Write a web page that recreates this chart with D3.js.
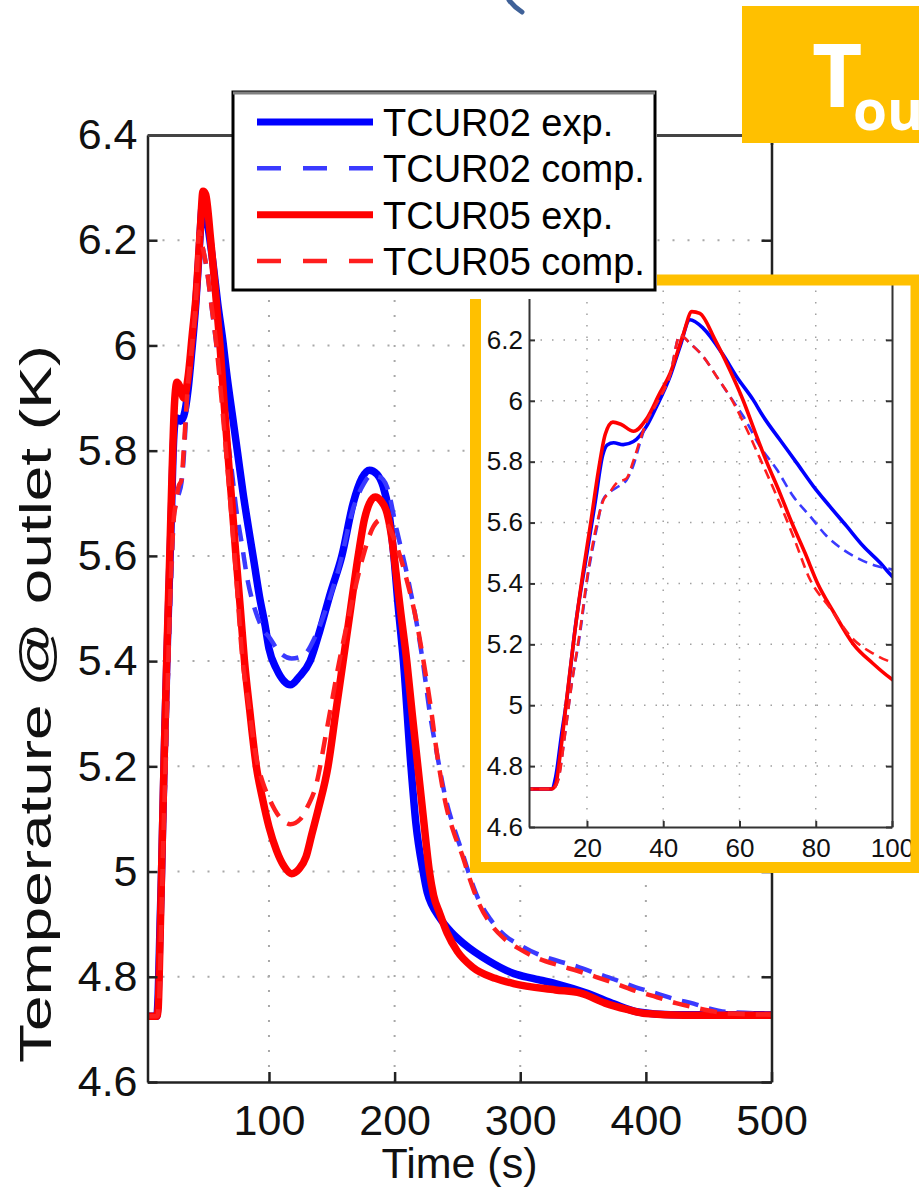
<!DOCTYPE html>
<html><head><meta charset="utf-8">
<script src="https://cdn.jsdelivr.net/npm/d3@7"></script>
<style>body{margin:0;background:#fff;} svg{display:block;}</style>
</head><body>
<svg id="c" width="919" height="1190"></svg>
<script>
// ---------------- data ----------------
const seriesNames = ["TCUR02 exp.", "TCUR02 comp.", "TCUR05 exp.", "TCUR05 comp."];
const tcur02Exp = [[3.3,4.725],[10.7,4.725],[11.8,4.765],[13.3,4.9],[14.5,5.0],[17.2,5.28],[20,5.5],[22.2,5.67],[24.1,5.82],[25.3,5.855],[27,5.862],[29.5,5.856],[32.2,5.866],[35.6,5.916],[38.2,5.98],[41.8,6.08],[44.4,6.178],[47,6.266],[50.5,6.238],[55.7,6.151],[59.2,6.08],[63.6,6.003],[66.2,5.949],[70.6,5.872],[75,5.796],[79.4,5.719],[83.7,5.653],[88.1,5.588],[92.5,5.522],[96.9,5.468],[100,5.424],[106,5.385],[112,5.362],[117,5.355],[124,5.37],[132.7,5.4],[140.6,5.459],[149,5.53],[158,5.6],[167,5.7],[174,5.748],[180,5.763],[186,5.755],[191,5.731],[195,5.69],[199,5.61],[203,5.5],[207,5.4],[213,5.2],[217,5.09],[222.7,5.0],[226,4.96],[230,4.935],[235,4.915],[245,4.885],[255,4.863],[275,4.83],[295,4.806],[310,4.797],[328,4.787],[354,4.768],[375,4.748],[394,4.733],[420,4.728],[500,4.728]];
const tcur02Comp = [[3.3,4.725],[11,4.725],[12.5,4.76],[14.2,4.9],[16,5.07],[18,5.22],[20.3,5.43],[22.5,5.577],[24.2,5.675],[26,5.70],[27.8,5.715],[30.4,5.74],[32.1,5.785],[33.9,5.861],[35.6,5.927],[38.3,5.992],[41.8,6.085],[44.4,6.216],[47,6.189],[50.5,6.145],[54,6.08],[57.5,6.014],[61,5.949],[65.4,5.85],[69.8,5.774],[74.1,5.686],[78.5,5.621],[82.9,5.555],[87.2,5.511],[91.6,5.479],[96,5.457],[100,5.446],[108,5.418],[118,5.405],[127,5.41],[138,5.453],[147,5.51],[156,5.58],[167,5.69],[175,5.735],[181,5.752],[188,5.75],[194,5.731],[201.7,5.649],[209.7,5.567],[217.7,5.47],[223,5.39],[227.5,5.31],[234,5.22],[240.9,5.136],[247,5.085],[254,5.035],[260,4.99],[267,4.946],[276,4.91],[287,4.88],[300,4.86],[313,4.844],[330,4.83],[346,4.819],[360,4.807],[376,4.794],[392,4.78],[409,4.768],[424,4.757],[438,4.749],[450,4.74],[465,4.733],[500,4.73]];
const tcur05Exp = [[3.3,4.725],[10.7,4.725],[11.8,4.74],[13,4.84],[14.5,5.0],[16.6,5.22],[18.9,5.43],[21,5.6],[23,5.77],[24.8,5.89],[26.8,5.93],[29,5.922],[32.2,5.90],[35.6,5.94],[39.1,6.025],[41.8,6.09],[45.3,6.22],[47.5,6.293],[49.6,6.287],[53.6,6.2],[57.5,6.1],[61,6.0],[64,5.9],[67.1,5.8],[70.5,5.7],[73.7,5.6],[77.2,5.5],[80.5,5.4],[84.5,5.31],[89.9,5.2],[95,5.137],[100,5.085],[106,5.04],[112,5.01],[118,4.996],[124,5.005],[129.5,5.028],[134,5.07],[139.4,5.12],[147,5.2],[153,5.3],[159,5.4],[165,5.5],[171,5.6],[176,5.67],[180,5.70],[184.5,5.712],[189,5.705],[194,5.681],[198,5.63],[201,5.57],[205,5.49],[209.7,5.4],[214,5.3],[218.5,5.2],[223,5.1],[227.7,5.0],[231,4.955],[236,4.92],[241.8,4.883],[250,4.848],[261.7,4.819],[280,4.797],[294.7,4.787],[328,4.775],[348,4.769],[367.5,4.75],[385,4.738],[400,4.73],[430,4.727],[500,4.727]];
const tcur05Comp = [[3.3,4.725],[11,4.725],[12.5,4.755],[14.2,4.9],[16,5.07],[18,5.23],[20.3,5.44],[22.5,5.59],[24.2,5.67],[26,5.70],[27.8,5.73],[30.4,5.745],[32.1,5.80],[33.9,5.87],[35.6,5.93],[38.3,5.992],[41.8,6.085],[44.4,6.216],[47,6.189],[50.5,6.145],[54,6.08],[57.5,6.014],[61,5.93],[65.4,5.81],[69.8,5.686],[74.1,5.555],[78.5,5.413],[83.7,5.32],[89.9,5.216],[95,5.17],[100,5.14],[108,5.105],[117,5.09],[125,5.1],[131,5.125],[137,5.16],[146,5.27],[156,5.40],[167,5.522],[175,5.60],[183,5.655],[188.4,5.668],[194,5.66],[199,5.636],[209.7,5.554],[217.7,5.472],[223,5.40],[228.3,5.32],[234,5.22],[241,5.125],[247,5.075],[254,5.03],[260,4.985],[267,4.94],[276,4.902],[287,4.873],[300,4.852],[313,4.836],[330,4.822],[346,4.811],[360,4.8],[376,4.787],[392,4.773],[409,4.761],[424,4.75],[438,4.742],[450,4.736],[465,4.73],[500,4.728]];

const mainXTicks = [100, 200, 300, 400, 500];
const mainYTicks = [4.6, 4.8, 5, 5.2, 5.4, 5.6, 5.8, 6, 6.2, 6.4];
const insetXTicks = [20, 40, 60, 80, 100];
const insetYTicks = [4.6, 4.8, 5, 5.2, 5.4, 5.6, 5.8, 6, 6.2];
const xLabel = "Time (s)";
const yLabel = "Temperature @ outlet (K)";
const badgeMain = "T";
const badgeSub = "out";

// ---------------- setup ----------------
const svg = d3.select("#c");
const FONT = "'Liberation Sans', Arial, Helvetica, sans-serif";
const series = [
  {name: seriesNames[0], data: tcur02Exp, color: "#0000ff", dashed: false},
  {name: seriesNames[1], data: tcur02Comp, color: "#3a3aff", dashed: true},
  {name: seriesNames[2], data: tcur05Exp, color: "#ff0000", dashed: false},
  {name: seriesNames[3], data: tcur05Comp, color: "#ff1e1e", dashed: true}
];
const defs = svg.append("defs");

// ---------------- main chart ----------------
const M = {left: 147.5, right: 771.5, top: 135, bottom: 1082};
const x = d3.scaleLinear().domain([3.3, 500]).range([M.left, M.right]);
const y = d3.scaleLinear().domain([4.6, 6.4]).range([M.bottom, M.top]);

defs.append("clipPath").attr("id", "clipMain").append("rect")
  .attr("x", M.left).attr("y", M.top - 4).attr("width", M.right - M.left).attr("height", M.bottom - M.top + 4);

const gMain = svg.append("g");
gMain.append("g").selectAll("line").data(mainYTicks.filter(d => d > 4.6 && d < 6.4)).join("line")
  .attr("x1", M.left).attr("x2", M.right).attr("y1", d => y(d)).attr("y2", d => y(d))
  .attr("stroke", "#a8a8a8").attr("stroke-width", 2).attr("stroke-dasharray", "2,13");
gMain.append("g").selectAll("line").data(mainXTicks.filter(d => d < 500)).join("line")
  .attr("y1", M.top).attr("y2", M.bottom).attr("x1", d => x(d)).attr("x2", d => x(d))
  .attr("stroke", "#a8a8a8").attr("stroke-width", 2).attr("stroke-dasharray", "2,13");

const lineMain = d3.line().x(d => x(d[0])).y(d => y(d[1])).curve(d3.curveMonotoneX);
const gLines = gMain.append("g").attr("clip-path", "url(#clipMain)");
series.forEach(s => {
  gLines.append("path").attr("d", lineMain(s.data)).attr("fill", "none")
    .attr("stroke", s.color).attr("stroke-width", s.dashed ? 4.5 : 7.5)
    .attr("stroke-dasharray", s.dashed ? "17,11" : null)
    .attr("stroke-linejoin", "round").attr("stroke-linecap", s.dashed ? "butt" : "round");
});

function styleAxis(g, fs) {
  g.select(".domain").attr("stroke", "#222").attr("stroke-width", 2.5);
  g.selectAll(".tick line").attr("stroke", "#222").attr("stroke-width", 2.5);
  g.selectAll("text").attr("font-family", FONT).attr("font-size", fs).attr("fill", "#111");
  g.attr("font-family", FONT);
}
const axL = gMain.append("g").attr("transform", `translate(${M.left},0)`)
  .call(d3.axisLeft(y).tickValues(mainYTicks).tickSizeInner(-10).tickSizeOuter(0).tickPadding(10).tickFormat(d3.format("")));
styleAxis(axL, 43);
const axR = gMain.append("g").attr("transform", `translate(${M.right},0)`)
  .call(d3.axisRight(y).tickValues(mainYTicks).tickSizeInner(-10).tickSizeOuter(0).tickFormat(""));
styleAxis(axR, 43);
const axB = gMain.append("g").attr("transform", `translate(0,${M.bottom})`)
  .call(d3.axisBottom(x).tickValues(mainXTicks).tickSizeInner(-10).tickSizeOuter(0).tickPadding(22).tickFormat(d3.format("")));
styleAxis(axB, 43);
const axT = gMain.append("g").attr("transform", `translate(0,${M.top})`)
  .call(d3.axisTop(x).tickValues(mainXTicks).tickSizeInner(-10).tickSizeOuter(0).tickFormat(""));
styleAxis(axT, 43);
axT.select(".domain").attr("stroke", "#444").attr("stroke-width", 3);

svg.append("text").attr("x", (M.left + M.right) / 2).attr("y", 1178)
  .attr("text-anchor", "middle").attr("font-family", FONT).attr("font-size", 43).attr("fill", "#111").text(xLabel);
svg.append("text").attr("transform", "translate(51,704) rotate(-90)")
  .attr("text-anchor", "middle").attr("font-family", FONT).attr("font-size", 45).attr("fill", "#111")
  .attr("textLength", 718).attr("lengthAdjust", "spacingAndGlyphs").text(yLabel);

// ---------------- inset ----------------
const I = {left: 529, right: 892, top: 279, bottom: 827};
const xi = d3.scaleLinear().domain([4.8, 100]).range([I.left, I.right]);
const yi = d3.scaleLinear().domain([4.6, 6.4]).range([I.bottom, I.top]);
const frame = {x: 475.5, y: 280, w: 440.5, h: 587.5};

svg.append("rect").attr("x", frame.x).attr("y", frame.y).attr("width", frame.w).attr("height", frame.h)
  .attr("fill", "#fff");
defs.append("clipPath").attr("id", "clipInset").append("rect")
  .attr("x", I.left).attr("y", I.top).attr("width", I.right - I.left).attr("height", I.bottom - I.top);

const gIn = svg.append("g");
gIn.append("g").selectAll("line").data(insetYTicks.filter(d => d > 4.6)).join("line")
  .attr("x1", I.left).attr("x2", I.right).attr("y1", d => yi(d)).attr("y2", d => yi(d))
  .attr("stroke", "#a0a0a0").attr("stroke-width", 1.5).attr("stroke-dasharray", "1.5,10");
gIn.append("g").selectAll("line").data(insetXTicks.filter(d => d < 100)).join("line")
  .attr("y1", I.top).attr("y2", I.bottom).attr("x1", d => xi(d)).attr("x2", d => xi(d))
  .attr("stroke", "#a0a0a0").attr("stroke-width", 1.5).attr("stroke-dasharray", "1.5,10");

const lineIn = d3.line().x(d => xi(d[0])).y(d => yi(d[1])).curve(d3.curveMonotoneX);
const gInLines = gIn.append("g").attr("clip-path", "url(#clipInset)");
series.forEach(s => {
  gInLines.append("path").attr("d", lineIn(s.data)).attr("fill", "none")
    .attr("stroke", s.color).attr("stroke-width", s.dashed ? 2.6 : 3.6)
    .attr("stroke-dasharray", s.dashed ? "10,6" : null)
    .attr("stroke-linejoin", "round");
});

function styleInset(g) {
  g.select(".domain").attr("stroke", "#333").attr("stroke-width", 2);
  g.selectAll(".tick line").attr("stroke", "#333").attr("stroke-width", 2);
  g.selectAll("text").attr("font-family", FONT).attr("font-size", 26).attr("fill", "#111");
}
const iL = gIn.append("g").attr("transform", `translate(${I.left},0)`)
  .call(d3.axisLeft(yi).tickValues(insetYTicks).tickSizeInner(-6).tickSizeOuter(0).tickPadding(6).tickFormat(d3.format("")));
styleInset(iL);
const iR = gIn.append("g").attr("transform", `translate(${I.right},0)`)
  .call(d3.axisRight(yi).tickValues(insetYTicks).tickSizeInner(-6).tickSizeOuter(0).tickFormat(""));
styleInset(iR);
const iB = gIn.append("g").attr("transform", `translate(0,${I.bottom})`)
  .call(d3.axisBottom(xi).tickValues(insetXTicks).tickSizeInner(-6).tickSizeOuter(0).tickPadding(12).tickFormat(d3.format("")));
styleInset(iB);

svg.append("rect").attr("x", frame.x).attr("y", frame.y).attr("width", frame.w).attr("height", frame.h)
  .attr("fill", "none").attr("stroke", "#FFC000").attr("stroke-width", 11);

// ---------------- legend ----------------
svg.append("rect").attr("x", 466).attr("y", 88).attr("width", 191).attr("height", 211).attr("fill", "#fff");
const L = {x: 233, y: 92, w: 422, h: 198};
svg.append("rect").attr("x", L.x).attr("y", L.y).attr("width", L.w).attr("height", L.h)
  .attr("fill", "#fff").attr("stroke", "#000").attr("stroke-width", 3);
svg.append("line").attr("x1", L.x).attr("x2", L.x + L.w).attr("y1", L.y + 1).attr("y2", L.y + 1)
  .attr("stroke", "#808080").attr("stroke-width", 3);
const rowY = d3.scalePoint().domain(seriesNames).range([122, 261]);
const gLeg = svg.append("g");
series.forEach(s => {
  const yy = rowY(s.name);
  gLeg.append("line").attr("x1", 257).attr("x2", 373).attr("y1", yy).attr("y2", yy)
    .attr("stroke", s.color).attr("stroke-width", s.dashed ? 4.5 : 7)
    .attr("stroke-dasharray", s.dashed ? "24,22" : null);
  gLeg.append("text").attr("x", 383).attr("y", yy + 14).attr("font-family", FONT)
    .attr("font-size", 38).attr("fill", "#000").text(s.name);
});

// ---------------- decorations ----------------
svg.append("rect").attr("x", 742).attr("y", 6).attr("width", 200).attr("height", 137).attr("fill", "#FFC000");
const badge = svg.append("text").attr("x", 812).attr("y", 107).attr("font-family", "'Open Sans', 'Noto Sans', sans-serif")
  .attr("font-weight", "bold").attr("fill", "#fff").attr("font-size", 87);
badge.append("tspan").text(badgeMain);
badge.append("tspan").attr("x", 853).attr("y", 130).attr("font-size", 55).text(badgeSub);

svg.append("path").attr("d", "M 509 0 Q 514 7 522 12").attr("fill", "none")
  .attr("stroke", "#3f6198").attr("stroke-width", 5).attr("stroke-linecap", "round");
</script>
</body></html>
